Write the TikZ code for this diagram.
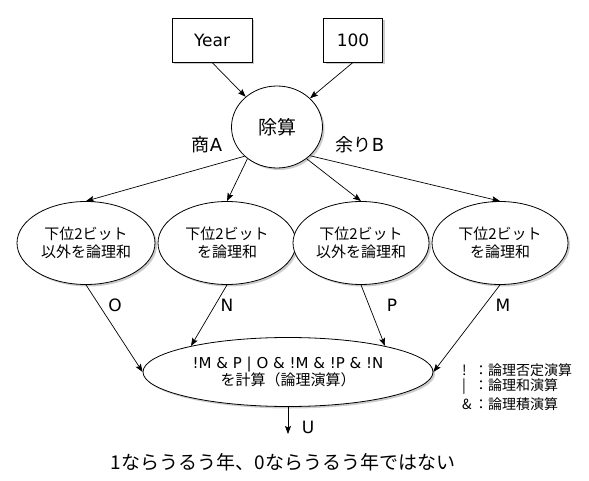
\documentclass[tikz,border=0pt]{standalone}
\usepackage{fontspec}
\setmainfont{DejaVu Sans}
\newfontfamily\jp{Noto Sans CJK JP}
\usetikzlibrary{shapes.geometric,arrows.meta,shadows}
\begin{document}
\begin{tikzpicture}[x=1pt,y=-1pt,
  shd/.style={drop shadow={shadow xshift=2pt,shadow yshift=-2pt,opacity=0.2,fill=black}},
  box/.style={draw,fill=white,line width=0.8pt,shd,inner sep=0pt,minimum height=44pt,font=\fontsize{17}{20}\selectfont},
  ell/.style={ellipse,draw,fill=white,line width=0.8pt,shd,inner sep=0pt,align=center},
  arr/.style={line width=0.7pt,-{Stealth[length=8pt,width=6pt,inset=1.5pt]}},
  ln/.style={line width=0.7pt},
  lbl/.style={inner sep=0pt,font=\fontsize{17}{20}\selectfont},
  jpl/.style={inner sep=0pt,font=\jp\fontsize{18}{20}\selectfont},
  small/.style={font=\jp\fontsize{15}{18}\selectfont},
  leg/.style={inner sep=0pt,anchor=west,font=\jp\fontsize{14}{16}\selectfont}
]
\useasboundingbox (0,0) rectangle (589,481);

\node[box,minimum width=80pt] (year) at (212,40) {Year};
\node[box,minimum width=59pt] (hund) at (353,40) {100};
\node[ell,minimum width=91pt,minimum height=82pt,font=\jp\fontsize{19}{22}\selectfont] (div) at (277,127) {除算};

\node[ell,small,minimum width=138pt,minimum height=83pt] (e1) at (86,243) {下位2ビット\\以外を論理和};
\node[ell,small,minimum width=138pt,minimum height=83pt] (e2) at (227,243) {下位2ビット\\を論理和};
\node[ell,small,minimum width=136pt,minimum height=83pt] (e3) at (361,243) {下位2ビット\\以外を論理和};
\node[ell,small,minimum width=136pt,minimum height=83pt] (e4) at (500,243) {下位2ビット\\を論理和};

\node[ell,minimum width=290pt,minimum height=69pt] (bot) at (288,372)
  {\fontsize{15}{18}\selectfont !M \& P | O \& !M \& !P \& !N\\{\jp\fontsize{15}{18}\selectfont を計算（論理演算）}};

\draw[arr] (year.south) -- (div.136);
\draw[arr] (hund.south) -- (div.41);
\draw[arr] (div.-138) -- (e1.north);
\draw[arr] (div.-133) -- (e2.north);
\draw[arr] (div.-47) -- (e3.north);
\draw[arr] (div.-41) -- (e4.north);

\draw[arr] (e1.south) -- (bot.west);
\draw[arr] (e2.south) -- (bot.165);
\draw[arr] (e3.south) -- (bot.15);
\draw[arr] (e4.south) -- (bot.east);

\coordinate (uend) at (288,434);
\draw[arr] (bot.south) -- (uend);

\node[jpl] (qa) at (207,145) {商{\fontspec{DejaVu Sans}A}};
\node[jpl] (rb) at (360,145) {余り{\fontspec{DejaVu Sans}B}};

\node[lbl] (lo) at (115,305) {O};
\node[lbl] (lnn) at (227,305) {N};
\node[lbl] (lp) at (392,305) {P};
\node[lbl] (lm) at (503,305) {M};
\node[lbl] (lu) at (308,427) {U};

\node[inner sep=0pt,font=\jp\fontsize{19}{22}\selectfont] (res) at (283,462) {1ならうるう年、0ならうるう年ではない};

\node[leg] (l1) at (462,370) {\makebox[12pt][l]{!}：論理否定演算};
\node[leg] (l2) at (462,387) {\makebox[12pt][l]{|}：論理和演算};
\node[leg] (l3) at (462,404) {\makebox[12pt][l]{\&}：論理積演算};
\end{tikzpicture}
\end{document}
